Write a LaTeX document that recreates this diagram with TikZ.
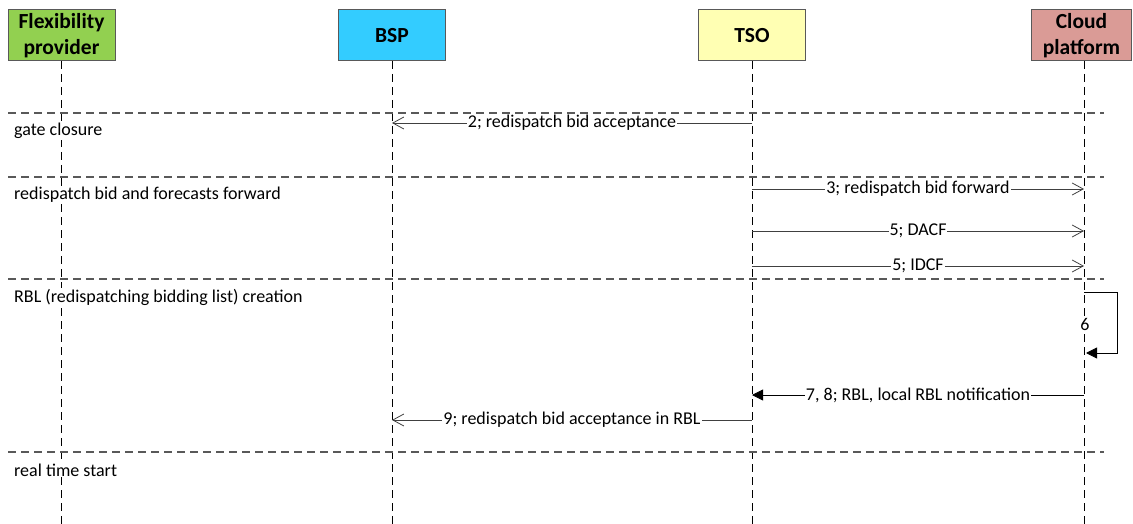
\documentclass[tikz,border=0pt]{standalone}
\usepackage{fontspec}
\setmainfont{Carlito}
\usetikzlibrary{arrows.meta}
\definecolor{fpgreen}{HTML}{92D050}
\definecolor{bspblue}{HTML}{33CCFF}
\definecolor{tsoyellow}{HTML}{FFFFB3}
\definecolor{cloudrose}{HTML}{DA9B96}
\definecolor{rule}{HTML}{595959}
\definecolor{msg}{HTML}{404040}
\tikzset{
  actor/.style={draw=rule, line width=1pt, minimum width=107pt, minimum height=51pt,
    align=center, font=\fontsize{21.5}{26.5}\selectfont\bfseries, inner sep=0pt},
  life/.style={draw=black, line width=0.9pt, dash pattern=on 8pt off 5pt},
  phase/.style={draw=rule, line width=1.1pt, dash pattern=on 8pt off 5pt},
  phasetext/.style={anchor=west, fill=white, inner sep=1pt, font=\fontsize{18}{20}\selectfont},
  msgtext/.style={fill=white, inner sep=1pt, font=\fontsize{18}{20}\selectfont},
  openmsg/.style={draw=msg, line width=0.8pt, -{Straight Barb[length=11pt,width=12pt,line width=0.8pt]}},
  solidmsg/.style={draw=black, line width=0.8pt, -{Triangle[length=11pt,width=11pt]}},
}
\begin{document}
\begin{tikzpicture}[x=1pt,y=-1pt]
\useasboundingbox (0,0) rectangle (1133,524);
% participants
\node[actor, fill=fpgreen]   (fp)    at (61.5,35.5)  {Flexibility\\provider};
\node[actor, fill=bspblue]   (bsp)   at (392,35.5)   {BSP};
\node[actor, fill=tsoyellow] (tso)   at (752,35.5)   {TSO};
\node[actor, fill=cloudrose, minimum width=100pt] (cloud) at (1081.5,35.5) {Cloud\\platform};
\coordinate (bottom) at (0,524);
% lifelines
\foreach \p/\x in {fp/61, bsp/392, tso/752, cloud/1084}
  \draw[life] (\x,61) coordinate (\p top) -- (\p top |- bottom);
% phase separators
\foreach \y in {113,177,279,452}
  \draw[phase] (8,\y) coordinate (ps) -- (1104,\y);
% phase labels
\node[phasetext] (ph1) at (13,131) {gate closure};
\node[phasetext] (ph2) at (13,195) {redispatch bid and forecasts forward};
\node[phasetext] (ph3) at (13,297) {RBL (redispatching bidding list) creation};
\node[phasetext] (ph4) at (13,470) {real time start};
% message end points on the lifelines
\coordinate (t2) at (752,123);  \coordinate (b2) at (392,123);
\coordinate (t3) at (752,189);  \coordinate (c3) at (1084,189);
\coordinate (t5a) at (752,231); \coordinate (c5a) at (1084,231);
\coordinate (t5b) at (752,266); \coordinate (c5b) at (1084,266);
\coordinate (c6s) at (1084,292); \coordinate (c6e) at (1086,353);
\coordinate (loopr) at (1117,292);
\coordinate (c7) at (1084,395); \coordinate (t7) at (752,395);
\coordinate (t9) at (752,420);  \coordinate (b9) at (392,420);
% messages
\draw[openmsg] (t2) -- node[msgtext] {2; redispatch bid acceptance} (b2);
\draw[openmsg] (t3) -- node[msgtext] {3; redispatch bid forward} (c3);
\draw[openmsg] (t5a) -- node[msgtext] {5; DACF} (c5a);
\draw[openmsg] (t5b) -- node[msgtext] {5; IDCF} (c5b);
\draw[solidmsg] (c6s) -- (loopr) |- (c6e);
\node[msgtext] (l6) at (1085,324) {6};
\draw[solidmsg] (c7) -- node[msgtext] {7, 8; RBL, local RBL notification} (t7);
\draw[openmsg] (t9) -- node[msgtext] {9; redispatch bid acceptance in RBL} (b9);
\end{tikzpicture}
\end{document}
